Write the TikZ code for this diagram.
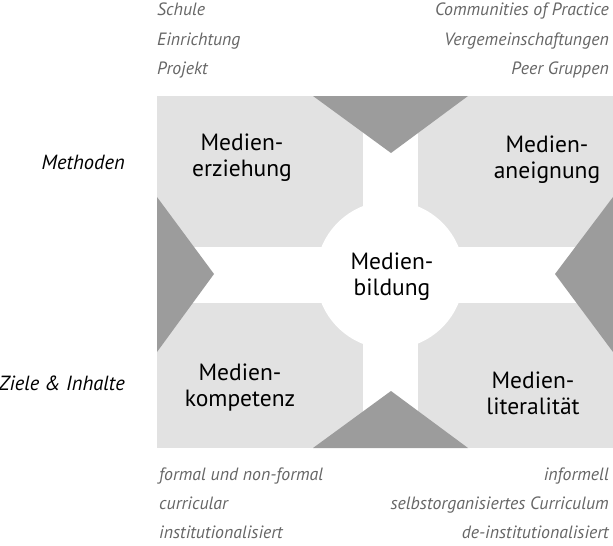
\documentclass[tikz,border=0pt]{standalone}
\usepackage{fontspec}
\setmainfont{PT Sans}
\definecolor{lightgr}{HTML}{E2E2E2}
\definecolor{darkgr}{HTML}{9C9C9C}
\definecolor{textgr}{HTML}{666666}
\tikzset{
  mainlbl/.style={align=center,font=\fontsize{23.5}{26}\selectfont,inner sep=0pt},
  sidelbl/.style={anchor=east,font=\fontsize{20.5}{24}\selectfont\itshape,inner sep=0pt},
  grlbl/.style={font=\fontsize{17.8}{20}\selectfont\itshape,text=textgr,inner sep=0pt},
}
\begin{document}
\begin{tikzpicture}[x=1pt,y=-1pt]
\useasboundingbox (0,0) rectangle (613,546);
% background gray block
\fill[lightgr] (157,96) rectangle (613,448);
% white cross
\fill[white] (363,96) rectangle (418,448);
\fill[white] (157,247) rectangle (613,303);
\fill[white] (390,275) circle (74);
% triangles
\fill[darkgr] (313,96) -- (468,96) -- (391,153) -- cycle;
\fill[darkgr] (313,448) -- (468,448) -- (391,391) -- cycle;
\fill[darkgr] (157,197) -- (157,352) -- (214,274) -- cycle;
\fill[darkgr] (613,197) -- (613,352) -- (555,274) -- cycle;
% main labels
\node[mainlbl] (erz) at (242,158) {Medien-\\erziehung};
\node[mainlbl] (aneig) at (547,159.5) {Medien-\\aneignung};
\node[mainlbl] (bild) at (392,277) {Medien-\\bildung};
\node[mainlbl] (komp) at (240,387.5) {Medien-\\kompetenz};
\node[mainlbl] (lit) at (533,393.5) {Medien-\\literalität};
% side labels
\node[sidelbl] (meth) at (125,162) {Methoden};
\node[sidelbl] (ziele) at (125,383) {Ziele \& Inhalte};
% top labels
\node[grlbl,anchor=base west] (schule) at (157,16) {Schule};
\node[grlbl,anchor=base west] (einr) at (157,45) {Einrichtung};
\node[grlbl,anchor=base west] (proj) at (157,74) {Projekt};
\node[grlbl,anchor=base east] (comm) at (609,16) {Communities of Practice};
\node[grlbl,anchor=base east] (verg) at (609,45) {Vergemeinschaftungen};
\node[grlbl,anchor=base east] (peer) at (609,74) {Peer Gruppen};
% bottom labels
\node[grlbl,anchor=base west] (formal) at (159,480) {formal und non-formal};
\node[grlbl,anchor=base west] (curr) at (159,509) {curricular};
\node[grlbl,anchor=base west] (inst) at (159,538) {institutionalisiert};
\node[grlbl,anchor=base east] (inform) at (609,480) {informell};
\node[grlbl,anchor=base east] (selbst) at (609,509) {selbstorganisiertes Curriculum};
\node[grlbl,anchor=base east] (deinst) at (609,538) {de-institutionalisiert};
\end{tikzpicture}
\end{document}
